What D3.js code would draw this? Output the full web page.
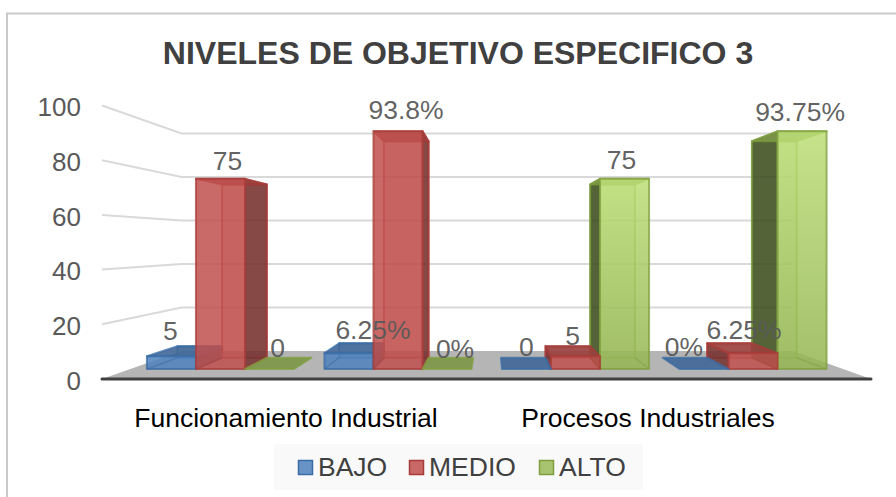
<!DOCTYPE html>
<html>
<head>
<meta charset="utf-8">
<script src="https://cdn.jsdelivr.net/npm/d3@7"></script>
<style>
  html, body { margin: 0; padding: 0; background: #fff; }
  svg { display: block; }
  text { font-family: "Liberation Sans", Arial, sans-serif; }
</style>
</head>
<body>
<script>
var w = 896;
var h = 497;

// values
var groups = ["F1", "F2", "P1", "P2"];
var seriesNames = ["BAJO", "MEDIO", "ALTO"];
var bajo = [5, 6.25, 0, 0];
var medio = [75, 93.75, 5, 6.25];
var alto = [0, 0, 75, 93.75];
var bajoLabels = ["5", "6.25%", "0", "0%"];
var medioLabels = ["75", "93.8%", "5", "6.25%"];
var altoLabels = ["0", "0%", "75", "93.75%"];
var yTicks = [0, 20, 40, 60, 80, 100];
var categoryLabels = ["Funcionamiento Industrial", "Procesos Industriales"];
var titleText = "NIVELES DE OBJETIVO ESPECIFICO 3";

var colors = ["#4f81bd", "#c0504d", "#9bbb59"];
var edges = ["#3a6ca6", "#a83c3a", "#7f9f3f"];
var sideColors = ["#2f4d71", "#73302e", "#3a4a1c"];
var topColors = ["#3f6797", "#9a403e", "#7c9647"];

// label nudges from the middle of the bar front / top of bar, same order as the series
var bajoNudge = [[-1, -16], [24, -14], [0, -13], [-20, -13]];
var medioNudge = [[7, -9], [8, -12], [-3, -11], [-9, -14]];
var altoNudge = [[8, -12], [8, -11], [-3, -10], [-2, -10]];

// perspective of the 3d box: everything shrinks towards this point
var vanish = [490, 242];
var sBack = 0.795;      // back wall
var sFront = 0.927;     // front of the bars
var sRear = 0.8445;     // back of the bars

var floorLeft = 102;
var floorRight = 871;

var y = d3.scaleLinear().domain([0, 100]).range([379, 105.5]);
var x0 = d3.scaleBand().domain(groups).range([103.5, 869.5]);
var x1 = d3.scaleBand().domain(seriesNames).range([0, x0.bandwidth()]).paddingOuter(0.31);

function project(X, v, s) {
  return [vanish[0] + (X - vanish[0]) * s, vanish[1] + (y(v) - vanish[1]) * s];
}

var svg = d3.select("body").append("svg").attr("width", w).attr("height", h);
var line = d3.line();

// frame
svg.append("path")
  .attr("d", "M7,497V13.5H896")
  .attr("fill", "none")
  .attr("stroke", "#c9c9c9")
  .attr("stroke-width", 2);

// title
svg.append("text")
  .attr("x", 458)
  .attr("y", 64)
  .attr("text-anchor", "middle")
  .attr("font-size", 32)
  .attr("font-weight", "bold")
  .attr("fill", "#404040")
  .text(titleText);

// floor
svg.append("path")
  .attr("d", line([project(floorLeft, 0, 1), project(floorLeft, 0, sBack), project(floorRight, 0, sBack), project(floorRight, 0, 1)]) + "Z")
  .attr("fill", "#b5b5b5");

// gridlines, left wall then back wall
svg.append("g").selectAll("path")
  .data(yTicks.filter(function(d) { return d > 0; }))
  .enter().append("path")
  .attr("d", function(d) {
    return line([project(floorLeft, d, 1), project(floorLeft, d, sBack), project(floorRight, d, sBack)]);
  })
  .attr("fill", "none")
  .attr("stroke", "#d9d9d9")
  .attr("stroke-width", 2);

// axis line in front of the floor
svg.append("line")
  .attr("x1", floorLeft).attr("x2", floorRight)
  .attr("y1", y(0)).attr("y2", y(0))
  .attr("stroke", "#404040")
  .attr("stroke-width", 3)
  .attr("stroke-linecap", "round");

// y axis
var yAxis = svg.append("g")
  .attr("transform", "translate(87,2)")
  .call(d3.axisLeft(y).tickValues(yTicks).tickSize(0).tickPadding(6));
yAxis.select(".domain").remove();
yAxis.selectAll("text")
  .attr("font-family", "Liberation Sans")
  .attr("font-size", 26)
  .attr("fill", "#595959");

// flatten into one list of bars
var values = [bajo, medio, alto];
var labels = [bajoLabels, medioLabels, altoLabels];
var nudges = [bajoNudge, medioNudge, altoNudge];
var bars = [];
seriesNames.forEach(function(name, si) {
  groups.forEach(function(g, gi) {
    var left = x0(g) + x1(name);
    bars.push({
      si: si,
      left: left,
      right: left + x1.bandwidth(),
      v: values[si][gi],
      label: labels[si][gi],
      nudge: nudges[si][gi]
    });
  });
});

// far from the vanishing point gets painted first
bars.sort(function(a, b) {
  return Math.abs((b.left + b.right) / 2 - vanish[0]) - Math.abs((a.left + a.right) / 2 - vanish[0]);
});

var defs = svg.append("defs");
var greenGrad = defs.append("linearGradient")
  .attr("id", "greenFront")
  .attr("x1", 0).attr("y1", 0).attr("x2", 0).attr("y2", 1);
greenGrad.append("stop").attr("offset", "0%").attr("stop-color", "#bcde76");
greenGrad.append("stop").attr("offset", "100%").attr("stop-color", "#94b552");

var barG = svg.append("g").selectAll("g")
  .data(bars)
  .enter().append("g");

function face(sel, pts, fill, opacity) {
  sel.append("path")
    .attr("d", function(d) { return line(pts(d)) + "Z"; })
    .attr("fill", fill)
    .attr("fill-opacity", opacity)
    .attr("stroke", function(d) { return edges[d.si]; })
    .attr("stroke-opacity", 0.75)
    .attr("stroke-width", 2)
    .attr("stroke-linejoin", "round");
}

function sideX(d) {
  return d.right < vanish[0] ? d.right : d.left;
}

var solid = barG.filter(function(d) { return d.v > 0; });

// back
face(solid, function(d) {
  return [project(d.left, 0, sRear), project(d.right, 0, sRear), project(d.right, d.v, sRear), project(d.left, d.v, sRear)];
}, function(d) { return colors[d.si]; }, 0.25);

// side
face(solid, function(d) {
  var X = sideX(d);
  return [project(X, 0, sFront), project(X, 0, sRear), project(X, d.v, sRear), project(X, d.v, sFront)];
}, function(d) { return sideColors[d.si]; }, 0.85);

// top
face(barG, function(d) {
  return [project(d.left, d.v, sFront), project(d.left, d.v, sRear), project(d.right, d.v, sRear), project(d.right, d.v, sFront)];
}, function(d) { return topColors[d.si]; }, 0.9);

// front
face(solid, function(d) {
  return [project(d.left, 0, sFront), project(d.right, 0, sFront), project(d.right, d.v, sFront), project(d.left, d.v, sFront)];
}, function(d) { return d.si == 2 ? "url(#greenFront)" : colors[d.si]; }, 0.85);

// floor lines of the box, seen through the front
solid.append("path")
  .attr("d", function(d) {
    return line([project(d.left, 0, sFront), project(d.left, 0, sRear)]) + line([project(d.right, 0, sFront), project(d.right, 0, sRear)]);
  })
  .attr("fill", "none")
  .attr("stroke", function(d) { return edges[d.si]; })
  .attr("stroke-opacity", 0.5)
  .attr("stroke-width", 1.5);

// value labels go over everything
svg.append("g").selectAll("text")
  .data(bars)
  .enter().append("text")
  .attr("x", function(d) { return project((d.left + d.right) / 2, d.v, sFront)[0] + d.nudge[0]; })
  .attr("y", function(d) { return project((d.left + d.right) / 2, d.v, sFront)[1] + d.nudge[1]; })
  .attr("text-anchor", "middle")
  .attr("font-size", 26.5)
  .attr("fill", "#595959")
  .attr("fill-opacity", 0.95)
  .text(function(d) { return d.label; });

// category labels sit under each pair of groups
var categoryNudge = [-9, -30];
svg.append("g").selectAll("text")
  .data(categoryLabels)
  .enter().append("text")
  .attr("x", function(d, i) { return (i == 0 ? x0("F2") : x0("P2")) + categoryNudge[i]; })
  .attr("y", 427)
  .attr("text-anchor", "middle")
  .attr("font-size", 26.5)
  .attr("fill", "#000")
  .text(function(d) { return d; });

// legend
var legendX = d3.scaleOrdinal().domain(seriesNames).range([298, 409, 539]);

svg.append("rect")
  .attr("x", 274).attr("y", 444)
  .attr("width", 369).attr("height", 46)
  .attr("fill", "#f9f9f9");

var legend = svg.append("g").selectAll("g")
  .data(seriesNames)
  .enter().append("g")
  .attr("transform", function(d) { return "translate(" + legendX(d) + ",460)"; });

legend.append("rect")
  .attr("x", 0.5).attr("y", 0.5)
  .attr("width", 14).attr("height", 14)
  .attr("fill", function(d, i) { return colors[i]; })
  .attr("fill-opacity", 0.85)
  .attr("stroke", function(d, i) { return edges[i]; })
  .attr("stroke-width", 1.5);

legend.append("text")
  .attr("x", 20)
  .attr("y", 16)
  .attr("font-size", 26.5)
  .attr("fill", "#404040")
  .text(function(d) { return d; });
</script>
</body>
</html>
